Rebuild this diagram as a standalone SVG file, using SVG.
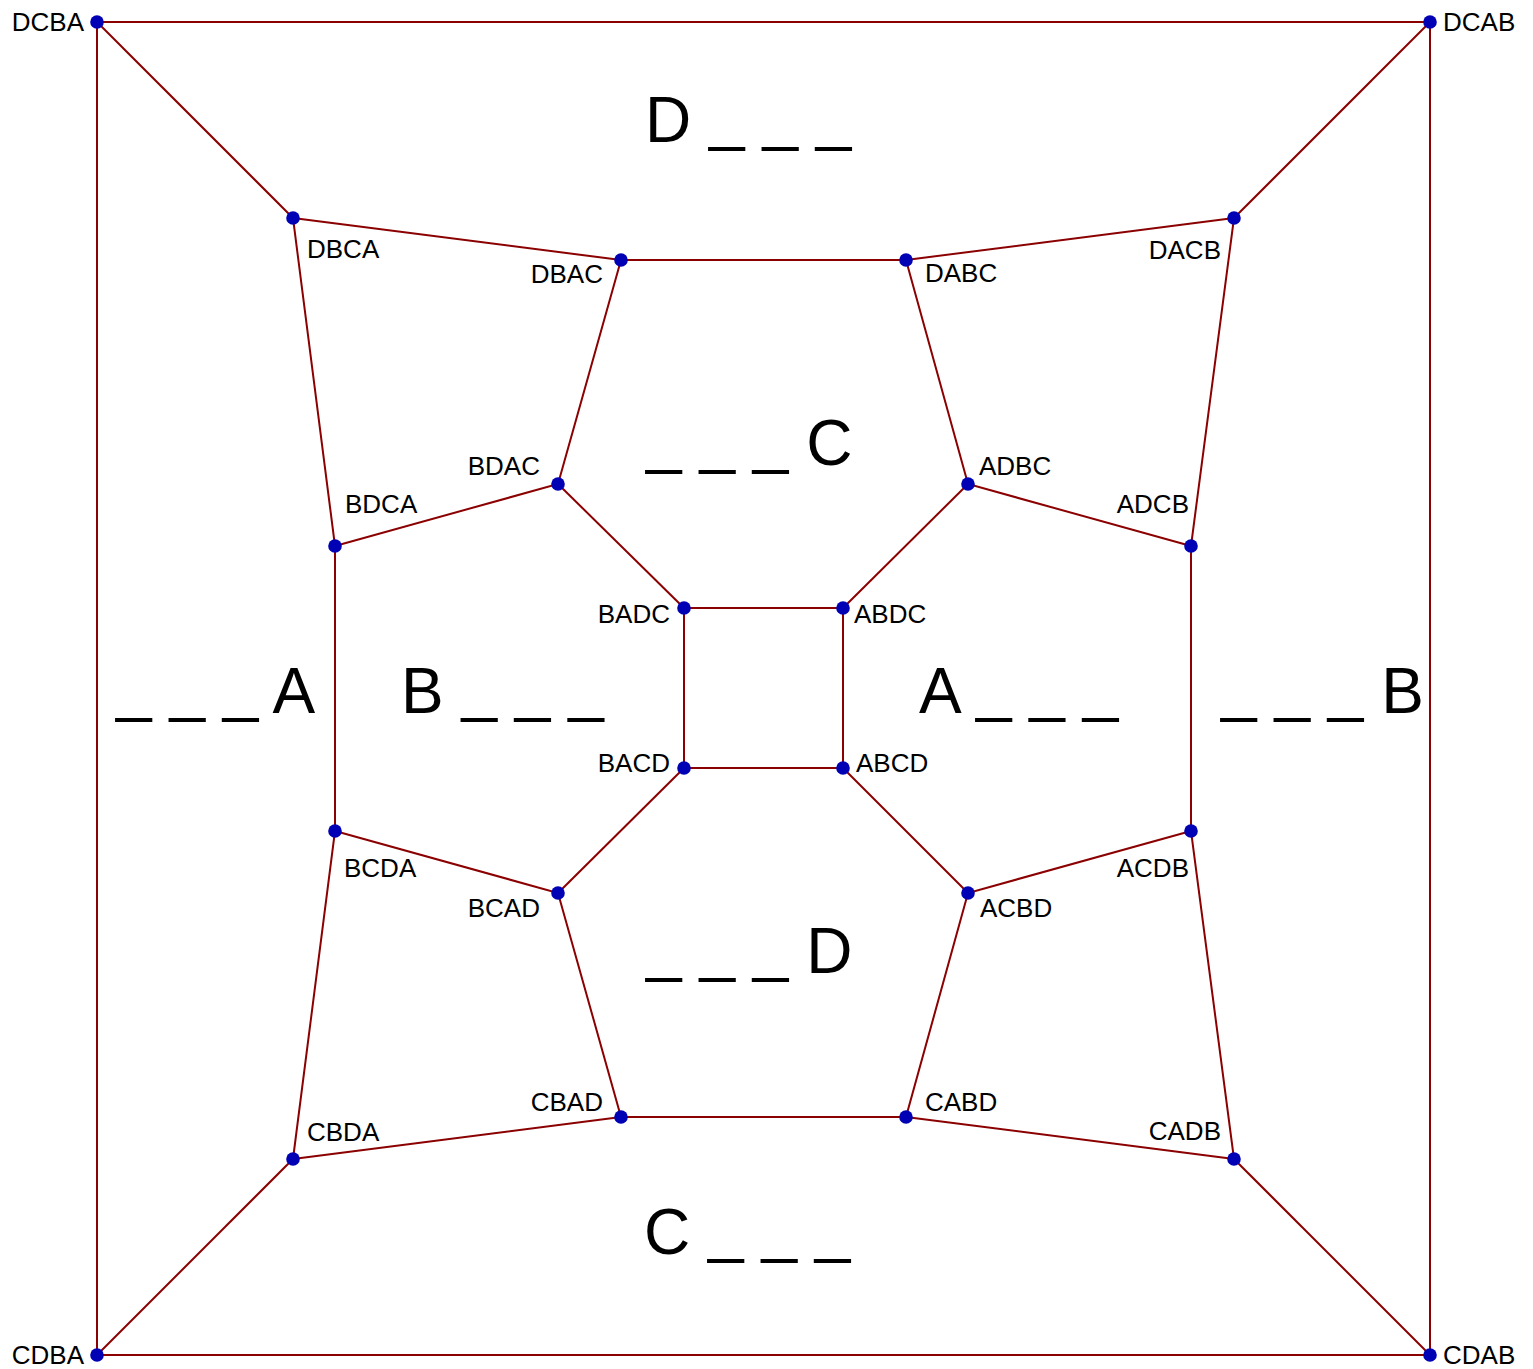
<svg xmlns="http://www.w3.org/2000/svg" width="1533" height="1369" viewBox="0 0 1533 1369">
<style>
.e{stroke:#8b0000;stroke-width:2;fill:none}
.d{fill:#0000b4}
.l{font-family:"Liberation Sans",Arial,sans-serif;font-size:26px;fill:#000}
.s{text-anchor:start}
.n{text-anchor:end}
.big{font-family:"Liberation Sans",Arial,sans-serif;font-size:64px;fill:#000}
</style>
<rect width="1533" height="1369" fill="#fff"/>
<g id="connectors">
<polygon class="e" points="97,22 1430,22 1430,1355 97,1355"/>
<line class="e" x1="97" y1="22" x2="293" y2="218"/>
<line class="e" x1="1430" y1="22" x2="1234" y2="218"/>
<line class="e" x1="97" y1="1355" x2="293" y2="1159"/>
<line class="e" x1="1430" y1="1355" x2="1234" y2="1159"/>
<polyline class="e" points="293,218 621,260 906,260 1234,218"/>
<polyline class="e" points="293,1159 621,1117 906,1117 1234,1159"/>
<polyline class="e" points="293,218 335,546 335,831 293,1159"/>
<polyline class="e" points="1234,218 1191,546 1191,831 1234,1159"/>
<polyline class="e" points="621,260 558,484 335,546"/>
<polyline class="e" points="906,260 968,484 1191,546"/>
<polyline class="e" points="621,1117 558,893 335,831"/>
<polyline class="e" points="906,1117 968,893 1191,831"/>
<line class="e" x1="558" y1="484" x2="684" y2="608"/>
<line class="e" x1="968" y1="484" x2="843" y2="608"/>
<line class="e" x1="558" y1="893" x2="684" y2="768"/>
<line class="e" x1="968" y1="893" x2="843" y2="768"/>
<polygon class="e" points="684,608 843,608 843,768 684,768"/>
</g>
<g id="DCBA"><circle class="d" cx="97" cy="22" r="6.8"/><text class="l n" x="84" y="31">DCBA</text></g>
<g id="DCAB"><circle class="d" cx="1430" cy="22" r="6.8"/><text class="l s" x="1443" y="31">DCAB</text></g>
<g id="CDBA"><circle class="d" cx="97" cy="1355" r="6.8"/><text class="l n" x="84" y="1364">CDBA</text></g>
<g id="CDAB"><circle class="d" cx="1430" cy="1355" r="6.8"/><text class="l s" x="1443" y="1364">CDAB</text></g>
<g id="DBCA"><circle class="d" cx="293" cy="218" r="6.8"/><text class="l s" x="307" y="258">DBCA</text></g>
<g id="DBAC"><circle class="d" cx="621" cy="260" r="6.8"/><text class="l n" x="603" y="283">DBAC</text></g>
<g id="DABC"><circle class="d" cx="906" cy="260" r="6.8"/><text class="l s" x="925" y="282">DABC</text></g>
<g id="DACB"><circle class="d" cx="1234" cy="218" r="6.8"/><text class="l n" x="1221" y="259">DACB</text></g>
<g id="BDCA"><circle class="d" cx="335" cy="546" r="6.8"/><text class="l s" x="345" y="513">BDCA</text></g>
<g id="BDAC"><circle class="d" cx="558" cy="484" r="6.8"/><text class="l n" x="540" y="475">BDAC</text></g>
<g id="ADBC"><circle class="d" cx="968" cy="484" r="6.8"/><text class="l s" x="979" y="475">ADBC</text></g>
<g id="ADCB"><circle class="d" cx="1191" cy="546" r="6.8"/><text class="l n" x="1189" y="513">ADCB</text></g>
<g id="BADC"><circle class="d" cx="684" cy="608" r="6.8"/><text class="l n" x="670" y="623">BADC</text></g>
<g id="ABDC"><circle class="d" cx="843" cy="608" r="6.8"/><text class="l s" x="854" y="623">ABDC</text></g>
<g id="BACD"><circle class="d" cx="684" cy="768" r="6.8"/><text class="l n" x="670" y="772">BACD</text></g>
<g id="ABCD"><circle class="d" cx="843" cy="768" r="6.8"/><text class="l s" x="856" y="772">ABCD</text></g>
<g id="BCDA"><circle class="d" cx="335" cy="831" r="6.8"/><text class="l s" x="344" y="877">BCDA</text></g>
<g id="BCAD"><circle class="d" cx="558" cy="893" r="6.8"/><text class="l n" x="540" y="917">BCAD</text></g>
<g id="ACBD"><circle class="d" cx="968" cy="893" r="6.8"/><text class="l s" x="980" y="917">ACBD</text></g>
<g id="ACDB"><circle class="d" cx="1191" cy="831" r="6.8"/><text class="l n" x="1189" y="877">ACDB</text></g>
<g id="CBDA"><circle class="d" cx="293" cy="1159" r="6.8"/><text class="l s" x="307" y="1141">CBDA</text></g>
<g id="CBAD"><circle class="d" cx="621" cy="1117" r="6.8"/><text class="l n" x="603" y="1111">CBAD</text></g>
<g id="CABD"><circle class="d" cx="906" cy="1117" r="6.8"/><text class="l s" x="925" y="1111">CABD</text></g>
<g id="CADB"><circle class="d" cx="1234" cy="1159" r="6.8"/><text class="l n" x="1221" y="1140">CADB</text></g>
<g id="regions">
<text class="big" x="645" y="142">D<tspan dy="-4"> _ _ _</tspan></text>
<text class="big" x="646" y="461">_ _ _ <tspan dy="4">C</tspan></text>
<text class="big" x="116" y="709">_ _ _ <tspan dy="4">A</tspan></text>
<text class="big" x="401" y="713">B<tspan dy="-4"> _ _ _</tspan></text>
<text class="big" x="919" y="713">A<tspan dy="-4"> _ _ _</tspan></text>
<text class="big" x="1221" y="709">_ _ _ <tspan dy="4">B</tspan></text>
<text class="big" x="646" y="969">_ _ _ <tspan dy="4">D</tspan></text>
<text class="big" x="644" y="1254">C<tspan dy="-4"> _ _ _</tspan></text>
</g>
</svg>
